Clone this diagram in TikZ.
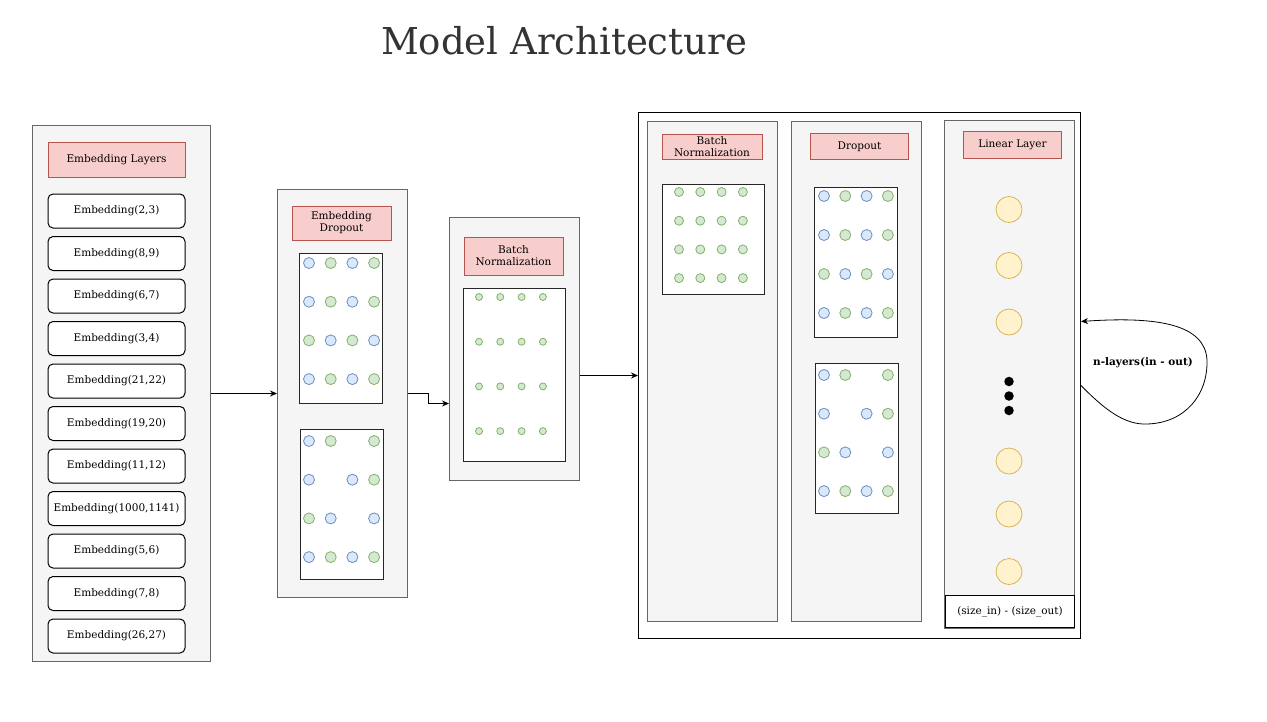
\documentclass[tikz,border=0pt]{standalone}
\usepackage{fontspec}
\setmainfont{DejaVu Serif}
\usetikzlibrary{arrows.meta,positioning}
\definecolor{panelfill}{HTML}{F5F5F5}
\definecolor{paneldraw}{HTML}{666666}
\definecolor{headfill}{HTML}{F8CECC}
\definecolor{headdraw}{HTML}{B85450}
\definecolor{blufill}{HTML}{DAE8FC}
\definecolor{bludraw}{HTML}{6C8EBF}
\definecolor{grnfill}{HTML}{D5E8D4}
\definecolor{grndraw}{HTML}{82B366}
\definecolor{yelfill}{HTML}{FFF2CC}
\definecolor{yeldraw}{HTML}{D6B656}
\definecolor{titleink}{HTML}{333333}
\newcommand{\lbl}{\fontsize{10.5}{12}\selectfont}
% grid of unit dots: name, x0, y0, dx, dy, size, rows of styles
\newcommand{\dotgrid}[7]{%
 \foreach \row [count=\i] in {#7}{%
  \foreach \c [count=\j] in \row{%
   \node[cell,\c,minimum size=#6] (#1-\i-\j) at ({#2+(\j-1)*#4},{#3+(\i-1)*#5}) {};}}}

\begin{document}
\begin{tikzpicture}[x=1pt,y=-1pt,>={Stealth[length=7pt,width=6pt]},
 panel/.style={draw=paneldraw,fill=panelfill,line width=1pt,anchor=north west,inner sep=0pt},
 head/.style={draw=headdraw,fill=headfill,line width=1pt,align=center,font=\lbl,inner sep=0pt},
 layer/.style={draw,rounded corners=5pt,fill=white,line width=1pt,minimum width=137pt,
  minimum height=34pt,font=\lbl,inner sep=0pt},
 grid/.style={draw=black!85,fill=white,line width=1pt,anchor=north west,inner sep=0pt},
 cell/.style={circle,inner sep=0pt,line width=0.8pt},
 blu/.style={draw=bludraw,fill=blufill},
 grn/.style={draw=grndraw,fill=grnfill},
 non/.style={draw=none,fill=none},
 unit/.style={circle,draw=yeldraw,fill=yelfill,line width=0.8pt,minimum size=26pt,inner sep=0pt},
 arr/.style={->,line width=0.8pt}]
\useasboundingbox[fill=white] (0,0) rectangle (1267,721);
\node[font=\fontsize{37}{44}\selectfont,text=titleink] (title) at (564,41) {Model Architecture};

% embeddings
\node[panel,minimum width=178pt,minimum height=536pt] (embp) at (32,125) {};
\node[head,minimum width=137pt,minimum height=35pt] (embh) at (116.5,159.5) {Embedding Layers};
\foreach \a/\b [count=\i] in {2/3,8/9,6/7,3/4,21/22,19/20,11/12,1000/1141,5/6,7/8,26/27}
 \node[layer] (emb\i) at (116.5,{211+(\i-1)*42.5}) {Embedding(\a,\b)};

% embedding dropout
\node[panel,minimum width=130pt,minimum height=408pt] (dropp) at (277,189) {};
\node[head,minimum width=99pt,minimum height=34pt] (droph) at (341.5,223) {Embedding\\Dropout};
\node[grid,minimum width=83pt,minimum height=150pt] (dropa) at (299,253) {};
\node[grid,minimum width=83pt,minimum height=150pt] (dropb) at (300,429) {};
\dotgrid{da}{309}{263}{21.7}{38.7}{11pt}{{blu,grn,blu,grn},{blu,grn,blu,grn},{grn,blu,grn,blu},{blu,grn,blu,grn}}
\dotgrid{db}{309}{441}{21.7}{38.7}{11pt}{{blu,grn,non,grn},{blu,non,blu,grn},{grn,blu,non,blu},{blu,grn,blu,grn}}

% batch normalization
\node[panel,minimum width=130pt,minimum height=263pt] (batchp) at (449,217) {};
\node[head,minimum width=99pt,minimum height=38pt] (batchh) at (513.5,256) {Batch\\Normalization};
\node[grid,minimum width=102pt,minimum height=173pt] (batchg) at (463,288) {};
\dotgrid{bn}{479}{297}{21.3}{44.7}{7pt}{{grn,grn,grn,grn},{grn,grn,grn,grn},{grn,grn,grn,grn},{grn,grn,grn,grn}}

% repeated block
\node[draw,fill=white,line width=1pt,anchor=north west,minimum width=442pt,minimum height=526pt,inner sep=0pt] (big) at (638,112) {};
\node[panel,minimum width=130pt,minimum height=500pt] (subA) at (647,121) {};
\node[head,minimum width=100pt,minimum height=25pt] (subAh) at (712,146.5) {Batch\\Normalization};
\node[grid,minimum width=102pt,minimum height=110pt] (subAg) at (662,184) {};
\dotgrid{sa}{679}{192}{21.3}{28.7}{9pt}{{grn,grn,grn,grn},{grn,grn,grn,grn},{grn,grn,grn,grn},{grn,grn,grn,grn}}

\node[panel,minimum width=130pt,minimum height=500pt] (subB) at (791,121) {};
\node[head,minimum width=98pt,minimum height=26pt] (subBh) at (859.5,146.3) {Dropout};
\node[grid,minimum width=83pt,minimum height=150pt] (subBa) at (814,187) {};
\node[grid,minimum width=83pt,minimum height=150pt] (subBb) at (815,363) {};
\dotgrid{sba}{824}{196}{21.3}{39}{11pt}{{blu,grn,blu,grn},{blu,grn,blu,grn},{grn,blu,grn,blu},{blu,grn,blu,grn}}
\dotgrid{sbb}{824}{375}{21.3}{38.7}{11pt}{{blu,grn,non,grn},{blu,non,blu,grn},{grn,blu,non,blu},{blu,grn,blu,grn}}

\node[panel,minimum width=130pt,minimum height=508pt] (subC) at (944,120) {};
\node[head,minimum width=98pt,minimum height=27pt] (subCh) at (1012.5,145) {Linear Layer};
\foreach \y [count=\i] in {209.5,265.5,322,461,514,571.5}
 \node[unit] (u\i) at (1009,\y) {};
\foreach \y [count=\i] in {381.5,396,410.5}
 \node[circle,fill=black,minimum size=9.5pt,inner sep=0pt] (dot\i) at (1009,\y) {};
\node[draw,fill=white,line width=1pt,anchor=north west,minimum width=129pt,minimum height=32pt,
 inner sep=0pt,font=\lbl] (size) at (945,595) {(size\_in) - (size\_out)};

% connectors
\draw[arr] (embp.east) -- (dropp.west);
\draw[arr] (dropp.east) -- +(20,0) |- ([yshift=-54.5pt]batchp.west);
\draw[arr] (batchp.east |- big.west) -- (big.west);
\coordinate (loopout) at ([yshift=-10pt]big.east);
\coordinate (loopin) at ([yshift=54pt]big.east);
\draw[arr] (loopout) .. controls (1105,410) and (1125,425) .. (1147,424)
 .. controls (1185,423) and (1208,395) .. (1207,360)
 .. controls (1205,325) and (1160,316) .. (loopin);
\node[font=\lbl\bfseries] (loopl) at (1143,363) {n-layers(in - out)};
\end{tikzpicture}
\end{document}
